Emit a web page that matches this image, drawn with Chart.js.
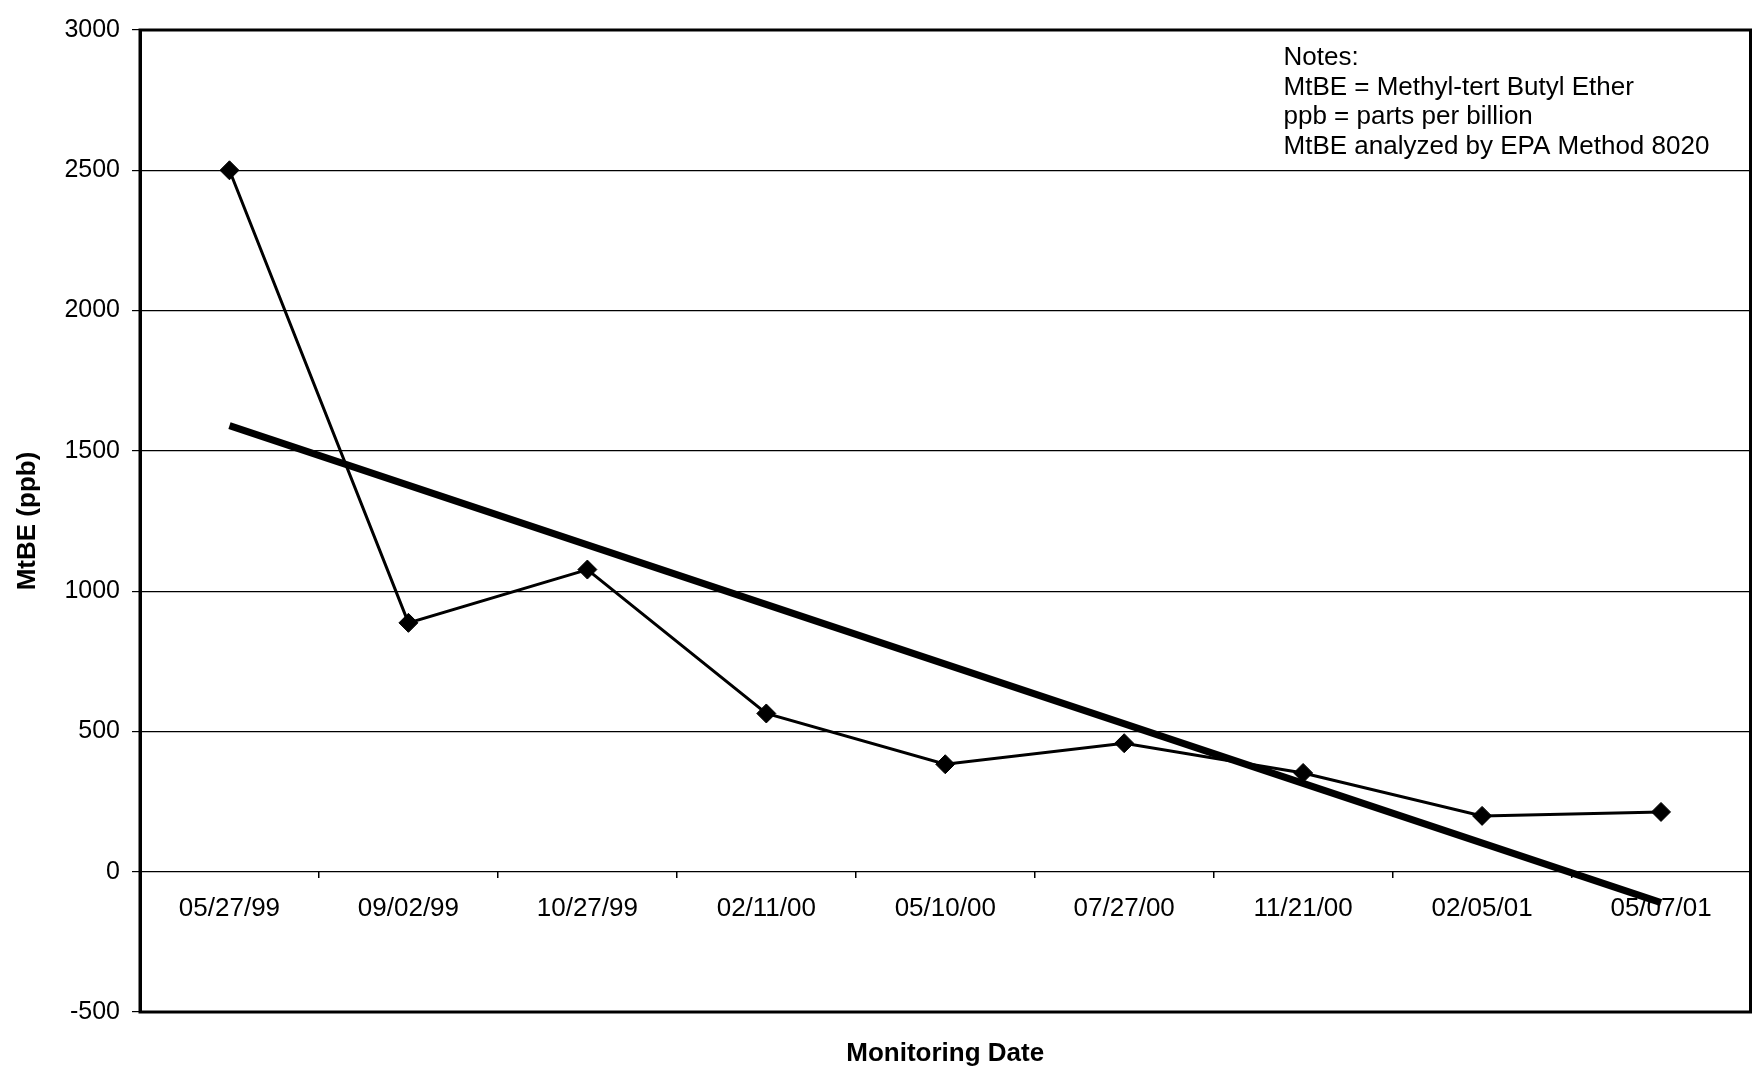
<!DOCTYPE html>
<html>
<head>
<meta charset="utf-8">
<script src="https://cdn.jsdelivr.net/npm/chart.js@4"></script>
<style>
html,body{margin:0;padding:0;background:#fff;}
#wrap{width:1761px;height:1070px;position:relative;}
</style>
</head>
<body>
<div id="wrap"><canvas id="c" width="1761" height="1070"></canvas></div>
<script>
// ---- data ----
const categories = ['05/27/99','09/02/99','10/27/99','02/11/00','05/10/00','07/27/00','11/21/00','02/05/01','05/07/01'];
const mtbeValues = [2500, 887, 1077, 564, 383, 458, 352, 199, 213];
// linear trend line: only its two end values are read; the line spans the gap
const trendValues = [1590, null, null, null, null, null, null, null, -110];
const yMin = -500;
const yMax = 3000;
const yStep = 500;
const notesLines = ['Notes:', 'MtBE = Methyl-tert Butyl Ether', 'ppb = parts per billion', 'MtBE analyzed by EPA Method 8020'];
const yAxisTitle = 'MtBE (ppb)';
const xAxisTitle = 'Monitoring Date';

const FONT = '"Liberation Sans", Arial, Helvetica, sans-serif';

const framePlugin = {
  id: 'frame',
  afterDraw(chart) {
    const {ctx, chartArea: a} = chart;
    ctx.save();
    ctx.strokeStyle = '#000';
    ctx.lineWidth = 3;
    ctx.strokeRect(a.left, a.top, a.right - a.left, a.bottom - a.top);
    ctx.font = '26px ' + FONT;
    ctx.fillStyle = '#000';
    ctx.textBaseline = 'middle';
    ctx.textAlign = 'left';
    notesLines.forEach((t, i) => ctx.fillText(t, a.right - 467, a.top + 28 + i * 29.5));
    ctx.restore();
  }
};

new Chart(document.getElementById('c'), {
  type: 'line',
  data: {
    labels: categories,
    datasets: [
      {
        label: 'MtBE',
        data: mtbeValues,
        borderColor: '#000',
        backgroundColor: '#000',
        borderWidth: 3,
        pointStyle: 'rectRot',
        pointRadius: 9.5,
        pointBorderWidth: 1,
        pointBackgroundColor: '#000',
        pointBorderColor: '#000',
        tension: 0,
        xAxisID: 'x',
        yAxisID: 'y'
      },
      {
        label: 'Trend',
        data: trendValues,
        borderColor: '#000',
        borderWidth: 7,
        pointRadius: 0,
        spanGaps: true,
        tension: 0,
        xAxisID: 'x',
        yAxisID: 'y'
      }
    ]
  },
  options: {
    responsive: false,
    animation: false,
    devicePixelRatio: 1,
    layout: { padding: { top: 30, right: 9, left: 0, bottom: 0 } },
    plugins: {
      legend: { display: false },
      tooltip: { enabled: false }
    },
    scales: {
      x: {
        type: 'category',
        position: { y: 0 },
        offset: true,
        grid: {
          display: true,
          drawOnChartArea: false,
          drawTicks: true,
          tickLength: 6,
          offset: true,
          color: '#000',
          lineWidth: 1.5
        },
        border: { display: false },
        ticks: {
          color: '#000',
          font: { family: FONT, size: 26 },
          padding: 16,
          maxRotation: 0,
          autoSkip: false
        },
        afterFit(scale) { scale.height = 0; }
      },
      x2: {
        type: 'category',
        labels: categories,
        position: 'bottom',
        grid: { display: false },
        border: { display: false },
        ticks: { display: false },
        title: {
          display: true,
          text: xAxisTitle,
          color: '#000',
          font: { family: FONT, size: 26, weight: 'bold' },
          padding: { top: 0, bottom: 1 }
        },
        afterFit(scale) { scale.height = 58; }
      },
      y: {
        type: 'linear',
        position: 'left',
        min: yMin,
        max: yMax,
        ticks: {
          stepSize: yStep,
          color: '#000',
          font: { family: FONT, size: 25 },
          padding: 12,
          callback: (v) => String(v)
        },
        grid: {
          color: '#000',
          lineWidth: 1.2,
          drawTicks: true,
          tickLength: 8,
          tickColor: '#000'
        },
        border: { display: true, color: '#000', width: 3 },
        title: {
          display: true,
          text: yAxisTitle,
          color: '#000',
          font: { family: FONT, size: 26, weight: 'bold' },
          padding: { top: 12, bottom: 0 }
        },
        afterFit(scale) { scale.width = 140; }
      }
    }
  },
  plugins: [framePlugin]
});
</script>
</body>
</html>
